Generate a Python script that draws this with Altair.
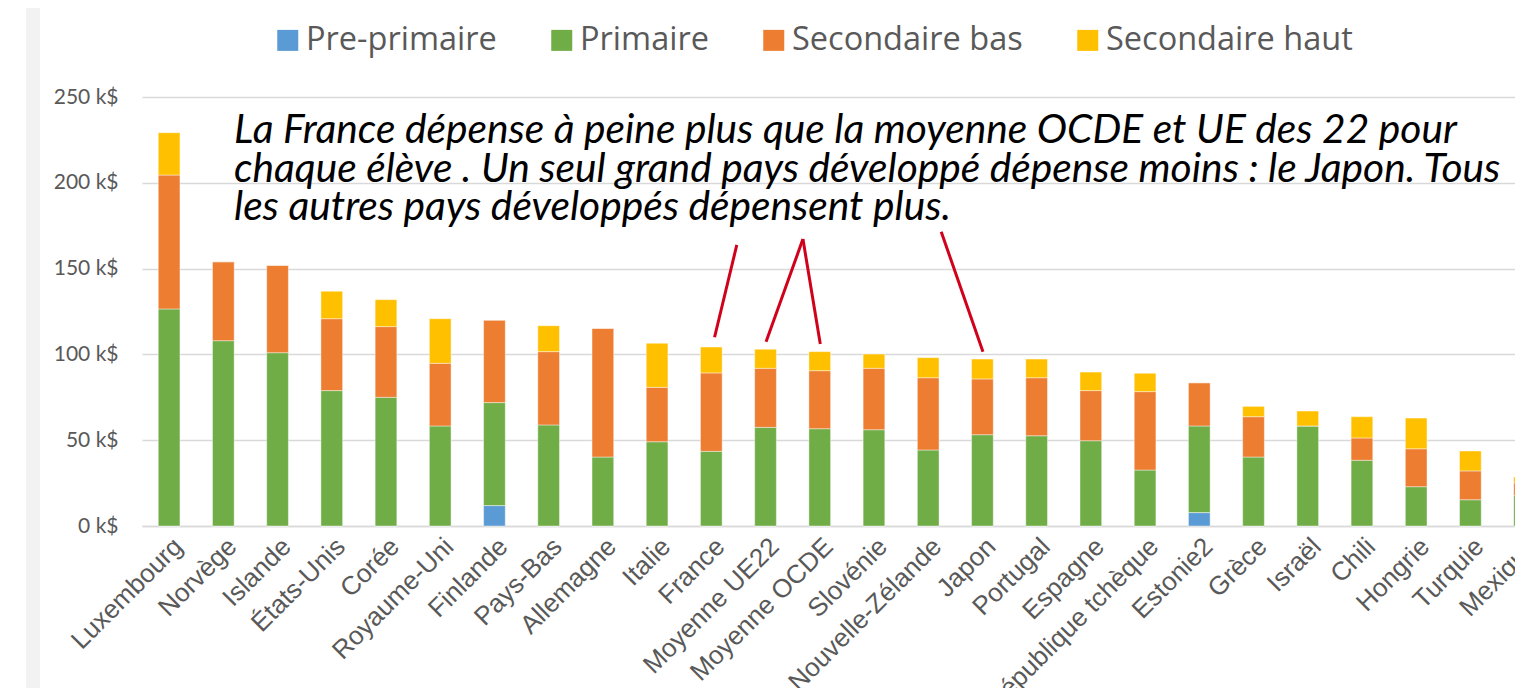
import altair as alt
import pandas as pd

countries = ["Luxembourg", "Norvège", "Islande", "États-Unis", "Corée", "Royaume-Uni",
             "Finlande", "Pays-Bas", "Allemagne", "Italie", "France", "Moyenne UE22",
             "Moyenne OCDE", "Slovénie", "Nouvelle-Zélande", "Japon", "Portugal", "Espagne",
             "République tchèque", "Estonie2", "Grèce", "Israël", "Chili", "Hongrie",
             "Turquie", "Mexique"]
series = ["Pre-primaire", "Primaire", "Secondaire bas", "Secondaire haut"]
colors = ["#5B9BD5", "#70AD47", "#ED7D31", "#FFC000"]

pre_primaire = [0, 0, 0, 0, 0, 0, 11.9, 0, 0, 0, 0, 0, 0, 0, 0, 0, 0, 0, 0, 7.8, 0, 0, 0, 0, 0, 0]
primaire = [126.5, 108.0, 101.0, 78.9, 75.0, 58.3, 60.0, 58.9, 40.2, 49.1, 43.5, 57.5, 56.7,
            56.1, 44.3, 53.2, 52.6, 49.7, 32.6, 50.5, 40.2, 58.3, 38.3, 22.9, 15.3, 17.7]
sec_bas = [78.0, 46.0, 50.9, 41.9, 41.2, 36.5, 48.1, 42.7, 75.0, 31.7, 45.7, 34.4, 33.8,
           35.8, 42.1, 32.5, 33.8, 29.2, 45.7, 25.2, 23.5, 0, 13.0, 22.1, 16.8, 7.4]
sec_haut = [24.7, 0, 0, 16.0, 15.7, 26.0, 0, 15.1, 0, 25.7, 15.1, 11.1, 11.1, 8.3, 11.7,
            11.6, 10.9, 10.8, 10.7, 0, 6.0, 8.7, 12.4, 17.9, 11.6, 3.5]

y_ticks = [0, 50, 100, 150, 200, 250]

annotation_lines = [
    "La France dépense à peine plus que la moyenne OCDE et UE des 22 pour",
    "chaque élève . Un seul grand pays développé dépense moins : le Japon. Tous",
    "les autres pays développés dépensent plus.",
]
# pointer lines, in category-index units (x) and k$ (y)
ptr_x1 = [10.47, 11.69, 11.69, 14.24]
ptr_y1 = [163.8, 167.2, 167.2, 171.5]
ptr_x2 = [10.06, 11.01, 12.01, 15.01]
ptr_y2 = [110.0, 107.4, 106.1, 101.6]

rows = []
for si, (name, vals) in enumerate(zip(series, [pre_primaire, primaire, sec_bas, sec_haut])):
    for c, v in zip(countries, vals):
        rows.append({"pays": c, "niveau": name, "ordre": si, "valeur": v})
df = pd.DataFrame(rows)
ptr = pd.DataFrame({"x1": ptr_x1, "y1": ptr_y1, "x2": ptr_x2, "y2": ptr_y2})

STEP = 54.22
RANGE = STEP * len(countries)

y_scale = alt.Scale(domain=[0, 250], nice=False, zero=True)

bars = alt.Chart(df).mark_bar(stroke="white", strokeWidth=0.6, strokeOpacity=0.7).encode(
    x=alt.X("pays:N", sort=countries, title=None,
            scale=alt.Scale(range=[0, RANGE], paddingInner=0.6, paddingOuter=0.3),
            axis=alt.Axis(labelAngle=-45, labelFont="Liberation Sans", labelFontSize=26,
                          labelColor="#595959", ticks=False, domainColor="#d9d9d9",
                          domainWidth=1.5, labelPadding=7, labelOverlap=False,
                          labelLimit=500)),
    y=alt.Y("valeur:Q", stack="zero", title=None, scale=y_scale,
            axis=alt.Axis(values=y_ticks, labelExpr="datum.value + ' k$'", labelFont="Lato",
                          labelFontSize=21, labelColor="#595959", ticks=False, domain=False,
                          labelPadding=24, gridColor="#d9d9d9", gridWidth=1.5)),
    color=alt.Color("niveau:N", scale=alt.Scale(domain=series, range=colors),
                    legend=alt.Legend(orient="none", legendX=129.5, legendY=-73,
                                      direction="horizontal", title=None,
                                      labelFont="Open Sans", labelFontSize=32.5,
                                      labelColor="#595959", symbolType="square",
                                      symbolSize=441, symbolStrokeWidth=0,
                                      labelOffset=2, columnPadding=48, padding=0,
                                      labelLimit=500)),
    order=alt.Order("ordre:Q", sort="ascending"),
)

pointers = alt.Chart(ptr).mark_rule(color="#d0021b", strokeWidth=3).encode(
    x=alt.X("x1:Q", scale=alt.Scale(domain=[-0.5, len(countries) - 0.5], range=[0, RANGE],
                                    nice=False, zero=False), axis=None),
    x2="x2:Q",
    y=alt.Y("y1:Q", scale=y_scale),
    y2="y2:Q",
)

note = alt.Chart(pd.DataFrame({"a": [0]})).mark_text(
    text=annotation_lines, font="Lato", fontStyle="italic", fontSize=40.7, lineHeight=38.5,
    align="left", baseline="alphabetic", color="black",
).encode(x=alt.value(92), y=alt.value(46))

strip = alt.Chart(pd.DataFrame({"a": [0]})).mark_rect(color="#f2f2f2").encode(
    x=alt.value(-116), x2=alt.value(-102), y=alt.value(-89), y2=alt.value(600)
)

chart = alt.layer(strip, bars, pointers, note).resolve_scale(x="independent").properties(
    width=1373, height=429,
    autosize=alt.AutoSizeParams(type="none"),
    padding={"left": 134, "top": 89, "right": 0, "bottom": 162},
    background="white",
).configure_view(stroke=None)

chart.save("out.html", embed_options={"renderer": "svg", "actions": False})
